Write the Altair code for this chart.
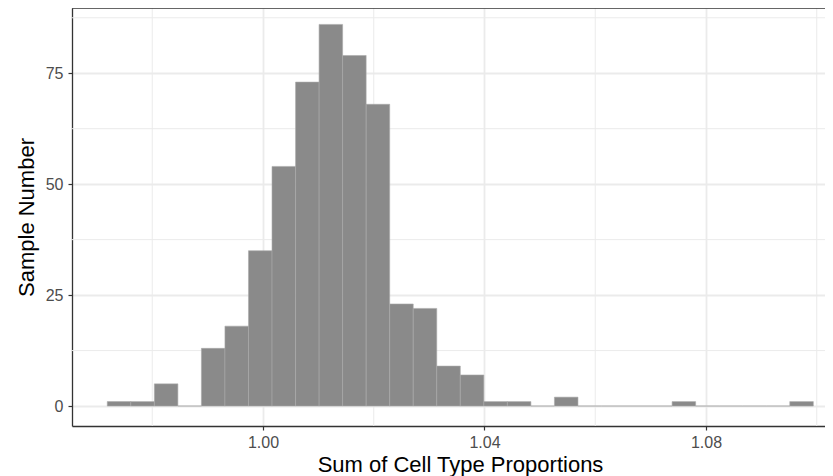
import altair as alt
import pandas as pd

# Histogram: 30 bins, counts
counts = [1, 1, 5, 0, 13, 18, 35, 54, 73, 86, 79, 68, 23, 22, 9, 7,
          1, 1, 0, 2, 0, 0, 0, 0, 1, 0, 0, 0, 0, 1]
bin_start = 0.97188
bin_width = 0.00425

x_major = [1.00, 1.04, 1.08]
x_minor = [0.98, 1.02, 1.06, 1.10]
y_major = [0, 25, 50, 75]
y_minor = [12.5, 37.5, 62.5, 87.5]

lefts = [bin_start + i * bin_width for i in range(len(counts))]
rights = [l + bin_width for l in lefts]
bars = pd.DataFrame({"x0": lefts, "x1": rights, "count": counts, "base": [0] * len(counts)})

FONT = "Liberation Sans"
GRID = "#ebebeb"
DARK = "#333333"

xscale = alt.Scale(domain=[0.96551, 1.10149], nice=False, zero=False)
yscale = alt.Scale(domain=[-4.5, 89.7], nice=False, zero=False)

x_axis = alt.Axis(
    values=x_major, format=".2f", grid=True, gridColor=GRID, gridWidth=1.8,
    tickColor=DARK, tickSize=4, tickWidth=1.2, domainColor=DARK, domainWidth=1.3,
    labelColor="#4d4d4d", labelFont=FONT, labelFontSize=16, labelPadding=4,
    title="Sum of Cell Type Proportions", titleFont=FONT, titleFontSize=22,
    titleFontWeight="normal", titleColor="black",
    titleX=388, titleY=45, titleBaseline="alphabetic")
y_axis = alt.Axis(
    values=y_major, grid=True, gridColor=GRID, gridWidth=1.8,
    tickColor=DARK, tickSize=4, tickWidth=1.2, domainColor=DARK, domainWidth=1.3,
    labelColor="#4d4d4d", labelFont=FONT, labelFontSize=16, labelPadding=5,
    title="Sample Number", titleFont=FONT, titleFontSize=22,
    titleFontWeight="normal", titleColor="black",
    titleX=-39, titleY=209, titleBaseline="alphabetic")

minor_v = alt.Chart(pd.DataFrame({"v": x_minor})).mark_rule(
    color=GRID, strokeWidth=1).encode(x=alt.X("v:Q", scale=xscale, axis=x_axis))
minor_h = alt.Chart(pd.DataFrame({"v": y_minor})).mark_rule(
    color=GRID, strokeWidth=1).encode(y=alt.Y("v:Q", scale=yscale, axis=y_axis))

hist = alt.Chart(bars).mark_rect(
    fill="#8a8a8a", stroke="#a9a9a9", strokeWidth=0.6
).encode(
    x=alt.X("x0:Q", scale=xscale, axis=x_axis),
    x2="x1:Q",
    y=alt.Y("count:Q", scale=yscale, axis=y_axis),
    y2="base:Q",
)

top_border = alt.Chart(pd.DataFrame({"a": [0]})).mark_rule(
    color=DARK, strokeWidth=1.3).encode(x=alt.value(0), x2=alt.value(753), y=alt.value(0))

chart = alt.layer(minor_v, minor_h, hist, top_border).properties(
    width=753, height=418,
    padding={"left": 64, "top": 0, "right": 0, "bottom": 50},
    autosize=alt.AutoSizeParams(type="none"),
).configure_view(stroke=None)

chart.save("out.html", embed_options={"renderer": "svg", "actions": False})
